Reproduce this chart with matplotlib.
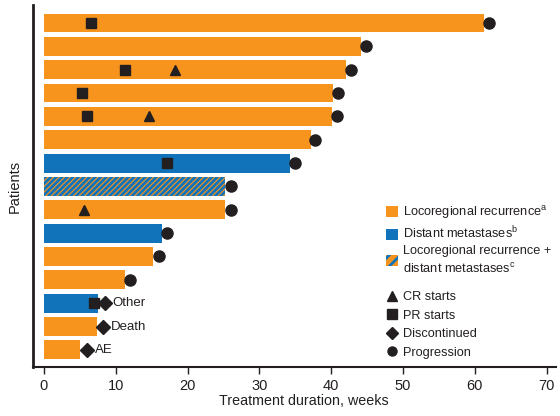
import matplotlib
matplotlib.use('Agg')
import matplotlib.pyplot as plt
from matplotlib.patches import Patch
from matplotlib.lines import Line2D

plt.rcParams['font.family'] = ['Liberation Sans', 'DejaVu Sans']
plt.rcParams['mathtext.fontset'] = 'custom'
plt.rcParams['mathtext.rm'] = 'Liberation Sans'
plt.rcParams['hatch.linewidth'] = 2.0

ORANGE = '#F7941D'
BLUE = '#1173BA'
DARK = '#231F20'

# one row per patient, top to bottom
durations = [61.3, 44.1, 42.0, 40.2, 40.1, 37.2, 34.2, 25.2, 25.2, 16.5, 15.2, 11.3, 7.5, 7.4, 5.0]
groups = ['LR', 'LR', 'LR', 'LR', 'LR', 'LR', 'DM', 'LR+DM', 'LR', 'DM', 'LR', 'LR', 'DM', 'LR', 'LR']
progression = [62.0, 44.8, 42.7, 41.0, 40.8, 37.8, 35.0, 26.0, 26.0, 17.1, 16.0, 12.0, None, None, None]

pr_rows = [0, 2, 3, 4, 6, 12]
pr_weeks = [6.5, 11.3, 5.3, 6.0, 17.1, 7.0]
cr_rows = [2, 4, 8]
cr_weeks = [18.2, 14.6, 5.6]
disc_rows = [12, 13, 14]
disc_weeks = [8.5, 8.3, 6.0]
disc_reasons = ['Other', 'Death', 'AE']

xticks = [0, 10, 20, 30, 40, 50, 60, 70]

fig = plt.figure(figsize=(5.6, 4.16), dpi=100)
ax = fig.add_axes([0.059, 0.118, 0.934, 0.870])

rows = list(range(len(durations)))
for r, d, g in zip(rows, durations, groups):
    if g == 'LR':
        ax.barh(r, d, height=0.81, color=ORANGE, linewidth=0)
    elif g == 'DM':
        ax.barh(r, d, height=0.81, color=BLUE, linewidth=0)
    else:
        ax.barh(r, d, height=0.81, facecolor=ORANGE, edgecolor=BLUE,
                hatch='//////', linewidth=0)

prog_rows = [r for r, p in zip(rows, progression) if p is not None]
prog_weeks = [p for p in progression if p is not None]
ax.plot(prog_weeks, prog_rows, 'o', color=DARK, ms=8, ls='none', zorder=3)
ax.plot(pr_weeks, pr_rows, 's', color=DARK, ms=7, ls='none', zorder=3)
ax.plot(cr_weeks, cr_rows, '^', color=DARK, ms=7, ls='none', zorder=3)
ax.plot(disc_weeks, disc_rows, 'D', color=DARK, ms=7, ls='none', zorder=3)
for r, w, txt in zip(disc_rows, disc_weeks, disc_reasons):
    ax.text(w + 1.1, r, txt, va='center', ha='left', fontsize=9.5, color=DARK)

ax.set_xlim(-1.5, 71.3)
ax.set_ylim(14.73, -0.77)
ax.set_xticks(xticks)
ax.set_yticks([])
ax.tick_params(axis='x', labelsize=10.5, length=5, width=1, color=DARK, labelcolor=DARK)
ax.set_xlabel('Treatment duration, weeks', fontsize=10.3, color=DARK, labelpad=2)
ax.xaxis.set_label_coords(0.517, -0.075)
ax.set_ylabel('Patients', fontsize=10.5, color=DARK, labelpad=8)

for side in ['top', 'right']:
    ax.spines[side].set_visible(False)
ax.spines['left'].set_linewidth(2)
ax.spines['bottom'].set_linewidth(1.5)
ax.spines['left'].set_color(DARK)
ax.spines['bottom'].set_color(DARK)

group_handles = [
    Patch(facecolor=ORANGE, linewidth=0),
    Patch(facecolor=BLUE, linewidth=0),
    Patch(facecolor=ORANGE, edgecolor=BLUE, hatch='///', linewidth=0),
]
group_labels = [
    'Locoregional recurrence$^{\\mathrm{a}}$',
    'Distant metastases$^{\\mathrm{b}}$',
    'Locoregional recurrence +\ndistant metastases$^{\\mathrm{c}}$',
]
leg = fig.legend(group_handles, group_labels, loc='upper left',
                 bbox_to_anchor=(386 / 560, 1 - 204 / 416), frameon=False,
                 fontsize=9.2, handlelength=0.95, handleheight=0.95,
                 handletextpad=0.4, borderpad=0, borderaxespad=0,
                 labelspacing=0.3, labelcolor=DARK)
for t in leg.get_texts():
    t.set_linespacing(1.45)

event_handles = [
    Line2D([], [], marker='^', color=DARK, ls='none', ms=6.5),
    Line2D([], [], marker='s', color=DARK, ls='none', ms=6.5),
    Line2D([], [], marker='D', color=DARK, ls='none', ms=6.5),
    Line2D([], [], marker='o', color=DARK, ls='none', ms=6.5),
]
event_labels = ['CR starts', 'PR starts', 'Discontinued', 'Progression']
fig.legend(event_handles, event_labels, loc='upper left',
           bbox_to_anchor=(386 / 560, 1 - 291 / 416), frameon=False,
           fontsize=9.2, handlelength=0.95, handletextpad=0.4, borderpad=0,
           borderaxespad=0, labelspacing=0.52, labelcolor=DARK)

fig.savefig('out.png', dpi=100)
